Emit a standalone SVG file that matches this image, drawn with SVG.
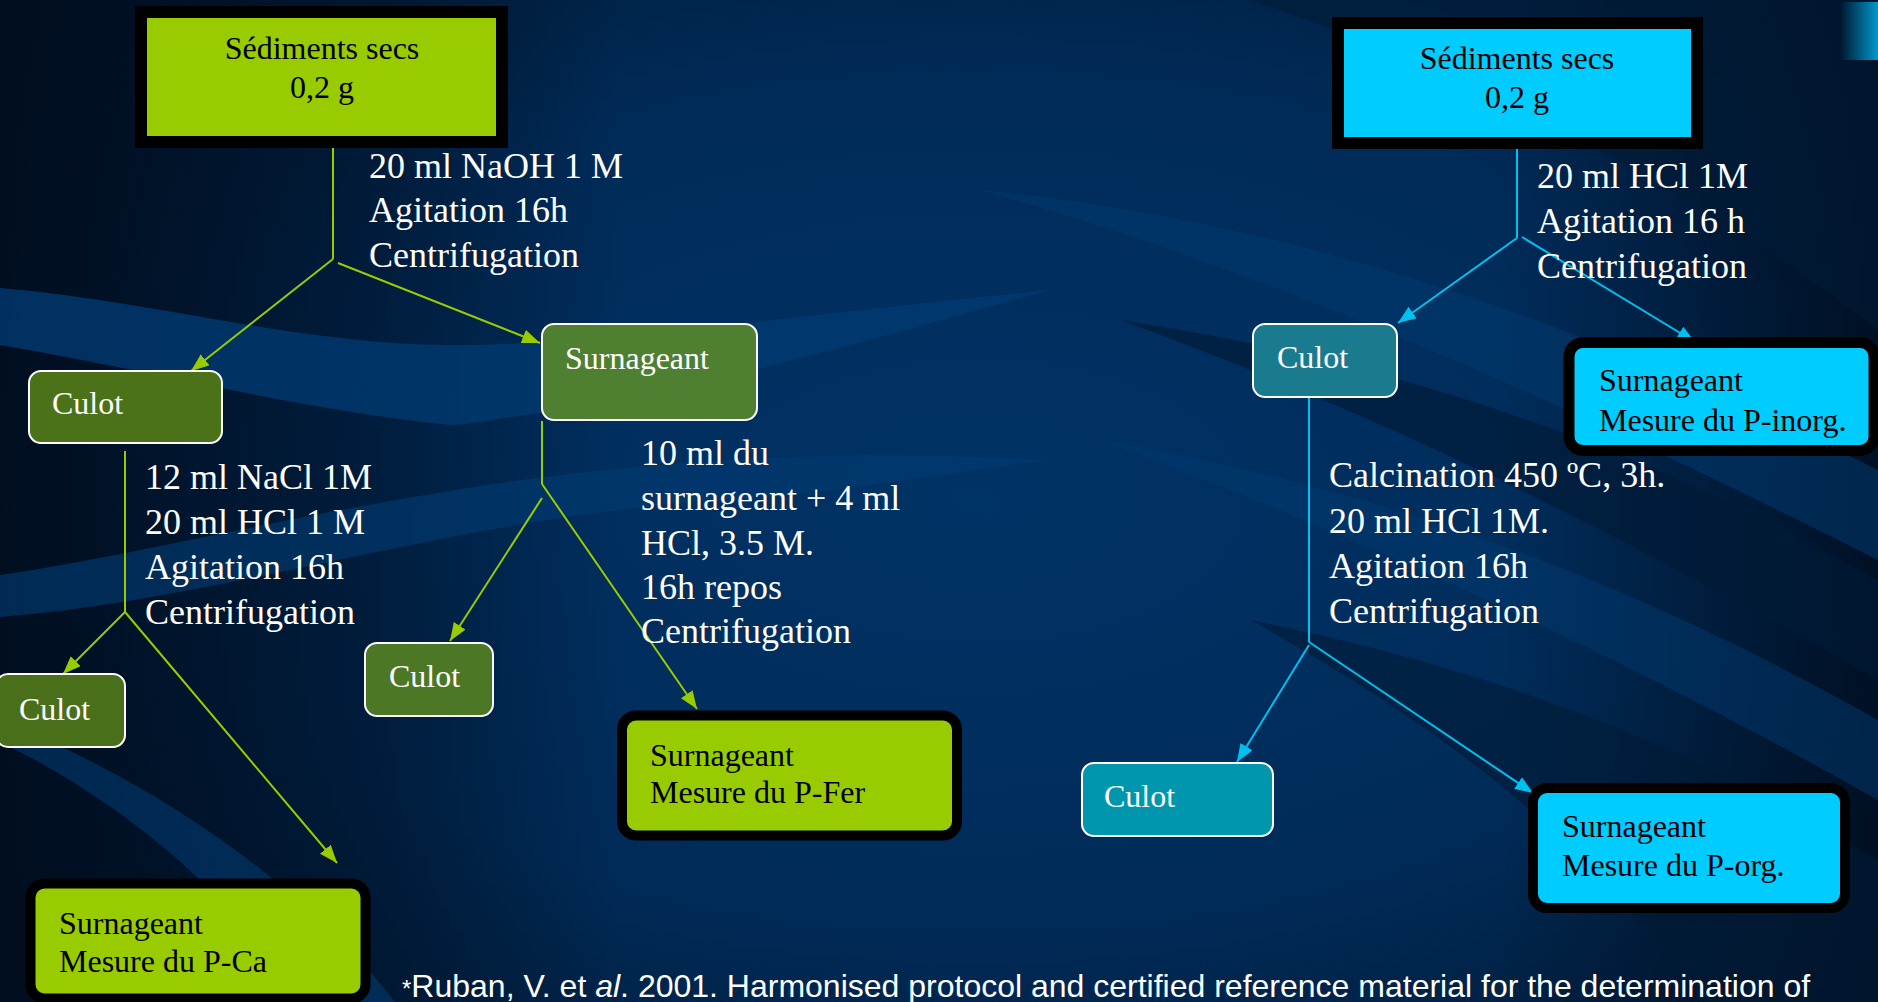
<svg xmlns="http://www.w3.org/2000/svg" width="1878" height="1002" viewBox="0 0 1878 1002">
<defs>
<radialGradient id="bgGrad" cx="0.52" cy="0.5" r="0.7">
<stop offset="0" stop-color="#003366"/>
<stop offset="0.6" stop-color="#002b58"/>
<stop offset="1" stop-color="#001a36"/>
</radialGradient>
<linearGradient id="leftDark" x1="0" y1="0" x2="1" y2="0">
<stop offset="0" stop-color="#000d1e" stop-opacity="0.95"/>
<stop offset="0.6" stop-color="#000d1e" stop-opacity="0.5"/>
<stop offset="1" stop-color="#000d1e" stop-opacity="0"/>
</linearGradient>
<linearGradient id="rightDark" x1="0" y1="0" x2="1" y2="0">
<stop offset="0" stop-color="#000d1e" stop-opacity="0"/>
<stop offset="1" stop-color="#000d1e" stop-opacity="0.85"/>
</linearGradient>
<linearGradient id="corner" x1="0" y1="0" x2="1" y2="0">
<stop offset="0" stop-color="#0099cc" stop-opacity="0"/>
<stop offset="1" stop-color="#0099cc"/>
</linearGradient>
<marker id="arrLime" markerUnits="userSpaceOnUse" markerWidth="20" markerHeight="16" refX="18" refY="7" orient="auto">
<path d="M0,0 L18,7 L0,14 z" fill="#99cc00"/>
</marker>
<marker id="arrCyan" markerUnits="userSpaceOnUse" markerWidth="20" markerHeight="16" refX="18" refY="7" orient="auto">
<path d="M0,0 L18,7 L0,14 z" fill="#00c0f0"/>
</marker>
</defs>
<style>
.node { font-family: "Liberation Serif", "Times New Roman", serif; font-size: 32px; }
.lbl { font-family: "Liberation Serif", "Times New Roman", serif; font-size: 36px; fill: #ffffff; }
.wt { fill: #ffffff; }
.bk { fill: #000000; }
.limeBox { fill: #99cc00; stroke: #000000; }
.cyanBox { fill: #00ccff; stroke: #000000; }
.olive { stroke: #ffffff; stroke-width: 2; }
.limeLine { stroke: #99cc00; stroke-width: 2; fill: none; }
.cyanLine { stroke: #00c0f0; stroke-width: 2; fill: none; }
.band { fill: #003a70; }
.dark { fill: #001a36; }
.cite { font-family: "Liberation Sans", Arial, sans-serif; font-size: 32px; fill: #ffffff; }
</style>

<!-- background -->
<g id="background">
<rect x="0" y="0" width="1878" height="1002" fill="url(#bgGrad)"/>
<rect x="0" y="0" width="620" height="1002" fill="url(#leftDark)"/>
<rect x="1500" y="0" width="378" height="1002" fill="url(#rightDark)"/>
<path class="dark" opacity="0.6" d="M1250,0 L1878,0 L1878,330 C1720,210 1520,90 1250,0 Z"/>
<path class="band" opacity="0.8" d="M0,288 C150,300 300,345 450,345 C600,345 750,320 1050,290 C800,360 650,400 560,410 C500,418 470,425 450,425 C300,410 150,370 0,345 Z"/>
<path class="band" opacity="0.65" d="M0,575 C200,545 420,480 700,462 C800,455 900,452 1050,460 C900,480 800,498 700,502 C450,520 220,600 0,617 Z"/>
<path class="band" opacity="0.6" d="M0,742 C120,800 230,890 300,1002 L395,1002 C300,880 150,780 0,720 Z"/>
<path class="band" opacity="0.55" d="M980,190 C1300,220 1600,330 1878,470 L1878,560 C1600,420 1300,280 980,190 Z"/>
<path class="dark" opacity="0.65" d="M1120,320 C1450,370 1680,470 1878,580 L1878,680 C1680,570 1450,440 1120,320 Z"/>
<path class="band" opacity="0.5" d="M1100,440 C1450,500 1700,620 1878,720 L1878,800 C1700,700 1450,570 1100,440 Z"/>
<path class="dark" opacity="0.6" d="M1250,620 C1550,680 1750,780 1878,860 L1878,1002 L1700,1002 C1600,850 1450,730 1250,620 Z"/>
<rect x="1840" y="2" width="38" height="58" fill="url(#corner)"/>
</g>

<!-- connectors -->
<g id="connectors">
<line class="limeLine" x1="333" y1="136" x2="333" y2="259"/>
<line class="limeLine" x1="333" y1="259" x2="191" y2="371" marker-end="url(#arrLime)"/>
<line class="limeLine" x1="338" y1="263" x2="540" y2="343" marker-end="url(#arrLime)"/>
<line class="limeLine" x1="125" y1="451" x2="125" y2="612"/>
<line class="limeLine" x1="125" y1="612" x2="63" y2="674" marker-end="url(#arrLime)"/>
<line class="limeLine" x1="125" y1="612" x2="337" y2="863" marker-end="url(#arrLime)"/>
<line class="limeLine" x1="542" y1="421" x2="542" y2="484"/>
<line class="limeLine" x1="542" y1="498" x2="450" y2="641" marker-end="url(#arrLime)"/>
<line class="limeLine" x1="542" y1="484" x2="697" y2="709" marker-end="url(#arrLime)"/>
<line class="cyanLine" x1="1517" y1="137" x2="1517" y2="238"/>
<line class="cyanLine" x1="1517" y1="238" x2="1398" y2="323" marker-end="url(#arrCyan)"/>
<line class="cyanLine" x1="1522" y1="237" x2="1695" y2="342" marker-end="url(#arrCyan)"/>
<line class="cyanLine" x1="1309" y1="397" x2="1309" y2="642"/>
<line class="cyanLine" x1="1309" y1="645" x2="1237" y2="762" marker-end="url(#arrCyan)"/>
<line class="cyanLine" x1="1309" y1="642" x2="1533" y2="793" marker-end="url(#arrCyan)"/>
</g>

<!-- labels -->
<g id="labels">
<text class="lbl" x="369" y="178">20 ml NaOH 1 M</text>
<text class="lbl" x="369" y="222">Agitation 16h</text>
<text class="lbl" x="369" y="267">Centrifugation</text>
<text class="lbl" x="145" y="489">12 ml NaCl 1M</text>
<text class="lbl" x="145" y="534">20 ml HCl 1 M</text>
<text class="lbl" x="145" y="579">Agitation 16h</text>
<text class="lbl" x="145" y="624">Centrifugation</text>
<text class="lbl" x="641" y="465">10 ml du</text>
<text class="lbl" x="641" y="510">surnageant + 4 ml</text>
<text class="lbl" x="641" y="555">HCl, 3.5 M.</text>
<text class="lbl" x="641" y="599">16h repos</text>
<text class="lbl" x="641" y="643">Centrifugation</text>
<text class="lbl" x="1537" y="188">20 ml HCl 1M</text>
<text class="lbl" x="1537" y="233">Agitation 16 h</text>
<text class="lbl" x="1537" y="278">Centrifugation</text>
<text class="lbl" x="1329" y="487">Calcination 450 ºC, 3h.</text>
<text class="lbl" x="1329" y="533">20 ml HCl 1M.</text>
<text class="lbl" x="1329" y="578">Agitation 16h</text>
<text class="lbl" x="1329" y="623">Centrifugation</text>
</g>

<!-- nodes -->
<g id="n-sed-left">
<rect class="limeBox" x="141" y="12" width="361" height="130" stroke-width="12"/>
<text class="node bk" x="322" y="59" text-anchor="middle">Sédiments secs</text>
<text class="node bk" x="322" y="98" text-anchor="middle">0,2 g</text>
</g>
<g id="n-culot-1">
<rect class="olive" x="29" y="371" width="193" height="72" rx="12" fill="#4c7219"/>
<text class="node wt" x="52" y="414">Culot</text>
</g>
<g id="n-surn-mid">
<rect class="olive" x="542" y="324" width="215" height="96" rx="12" fill="#4f7f30"/>
<text class="node wt" x="565" y="369">Surnageant</text>
</g>
<g id="n-culot-2">
<rect class="olive" x="-4" y="674" width="129" height="73" rx="12" fill="#4a6f1a"/>
<text class="node wt" x="19" y="720">Culot</text>
</g>
<g id="n-culot-3">
<rect class="olive" x="365" y="643" width="128" height="73" rx="12" fill="#4c7826"/>
<text class="node wt" x="389" y="687">Culot</text>
</g>
<g id="n-pfer">
<rect class="limeBox" x="622" y="715.5" width="335" height="120" rx="14" stroke-width="10"/>
<text class="node bk" x="650" y="766">Surnageant</text>
<text class="node bk" x="650" y="803">Mesure du P-Fer</text>
</g>
<g id="n-pca">
<rect class="limeBox" x="30.5" y="883.5" width="335" height="115" rx="14" stroke-width="10"/>
<text class="node bk" x="59" y="934">Surnageant</text>
<text class="node bk" x="59" y="972">Mesure du P-Ca</text>
</g>
<g id="n-sed-right">
<rect class="cyanBox" x="1338" y="23" width="359" height="120" stroke-width="12"/>
<text class="node bk" x="1517" y="69" text-anchor="middle">Sédiments secs</text>
<text class="node bk" x="1517" y="108" text-anchor="middle">0,2 g</text>
</g>
<g id="n-culot-4">
<rect class="olive" x="1253" y="324" width="144" height="73" rx="12" fill="#1b7b8e"/>
<text class="node wt" x="1277" y="368">Culot</text>
</g>
<g id="n-pinorg">
<rect class="cyanBox" x="1569" y="342.5" width="305" height="108" rx="14" stroke-width="11"/>
<text class="node bk" x="1599" y="391">Surnageant</text>
<text class="node bk" x="1599" y="431">Mesure du P-inorg.</text>
</g>
<g id="n-culot-5">
<rect class="olive" x="1082" y="763" width="191" height="73" rx="12" fill="#0097ae"/>
<text class="node wt" x="1104" y="807">Culot</text>
</g>
<g id="n-porg">
<rect class="cyanBox" x="1533" y="788" width="312" height="120" rx="14" stroke-width="10"/>
<text class="node bk" x="1562" y="837">Surnageant</text>
<text class="node bk" x="1562" y="876">Mesure du P-org.</text>
</g>

<g id="citation">
<text class="cite" x="402" y="997"><tspan font-size="24">*</tspan>Ruban, V. et <tspan font-style="italic">al</tspan>. 2001. Harmonised protocol and certified reference material for the determination of</text>
</g>
</svg>
